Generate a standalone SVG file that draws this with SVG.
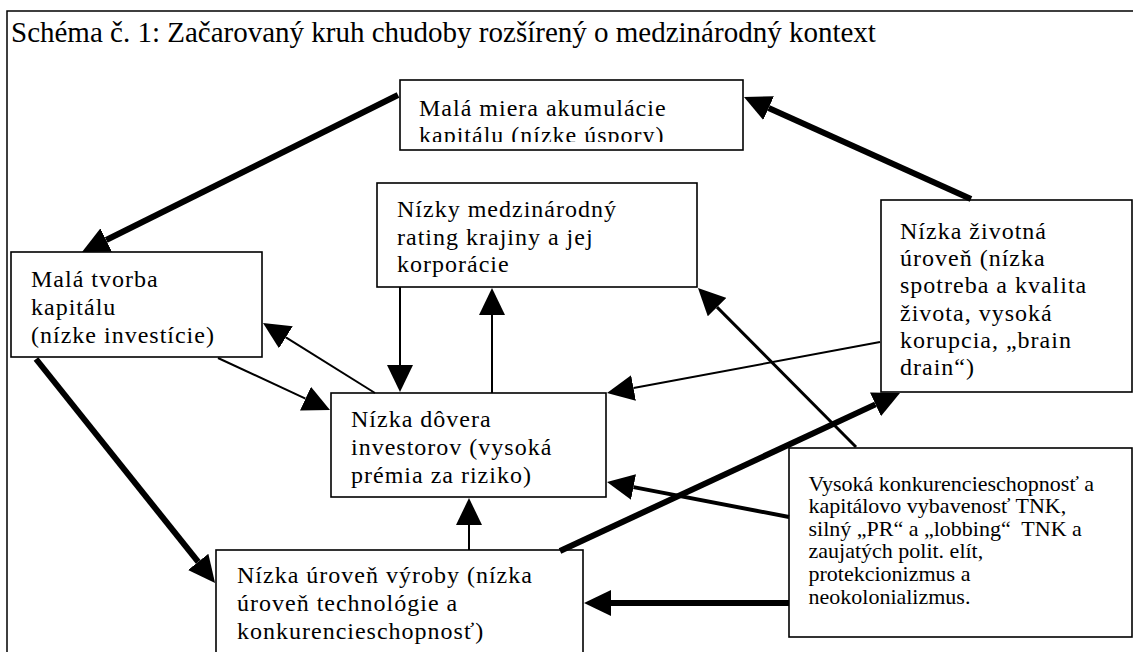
<svg xmlns="http://www.w3.org/2000/svg" width="1133" height="652" viewBox="0 0 1133 652">
<style>
.frame{fill:none;stroke:#000;stroke-width:1.5}
.box{fill:#fff;stroke:#000;stroke-width:1.6}
.t{font-family:"Liberation Serif","Times New Roman",serif;font-size:24px;letter-spacing:1px;fill:#000}
.ts{font-family:"Liberation Serif","Times New Roman",serif;font-size:22px;fill:#000;white-space:pre}
.title{font-family:"Liberation Serif","Times New Roman",serif;font-size:29px;fill:#000}
.c{stroke:#000;fill:none;marker-end:url(#ah)}
.w2{stroke-width:2}
.w3{stroke-width:3}
.w4{stroke-width:4}
.w6{stroke-width:6}
</style>
<defs>
<marker id="ah" markerUnits="userSpaceOnUse" viewBox="0 0 27 26" refX="0" refY="13" markerWidth="27" markerHeight="26" orient="auto">
<path d="M0,0 L27,13 L0,26 z" fill="#000"/>
</marker>
<clipPath id="clipA"><rect x="400" y="80" width="343" height="62"/></clipPath>
</defs>
<rect width="1133" height="652" fill="#fff"/>
<path class="frame" d="M7,652 V11 H1133"/>
<text class="title" x="11" y="42">Schéma č. 1: Začarovaný kruh chudoby rozšírený o medzinárodný kontext</text>

<g id="nodeA">
<rect class="box" x="400" y="80" width="343" height="70"/>
<text class="t" clip-path="url(#clipA)"><tspan x="419" y="115.5">Malá miera akumulácie</tspan><tspan x="419" y="143">kapitálu (nízke úspory)</tspan></text>
</g>
<g id="nodeB">
<rect class="box" x="11" y="252" width="251" height="105"/>
<text class="t"><tspan x="31" y="287">Malá tvorba</tspan><tspan x="31" y="315">kapitálu</tspan><tspan x="31" y="343">(nízke investície)</tspan></text>
</g>
<g id="nodeC">
<rect class="box" x="377" y="183" width="320" height="104"/>
<text class="t"><tspan x="397" y="217">Nízky medzinárodný</tspan><tspan x="397" y="244.5">rating krajiny a jej</tspan><tspan x="397" y="272">korporácie</tspan></text>
</g>
<g id="nodeD">
<rect class="box" x="881" y="200" width="251" height="192"/>
<text class="t"><tspan x="900" y="239">Nízka životná</tspan><tspan x="900" y="266.2">úroveň (nízka</tspan><tspan x="900" y="293.4">spotreba a kvalita</tspan><tspan x="900" y="320.6">života, vysoká</tspan><tspan x="900" y="347.8">korupcia, „brain</tspan><tspan x="900" y="375">drain“)</tspan></text>
</g>
<g id="nodeE">
<rect class="box" x="331" y="393" width="275" height="104"/>
<text class="t"><tspan x="351" y="427">Nízka dôvera</tspan><tspan x="351" y="455">investorov (vysoká</tspan><tspan x="351" y="483">prémia za riziko)</tspan></text>
</g>
<g id="nodeF">
<rect class="box" x="216" y="550" width="367" height="120"/>
<text class="t"><tspan x="237" y="583">Nízka úroveň výroby (nízka</tspan><tspan x="237" y="611">úroveň technológie a</tspan><tspan x="237" y="639">konkurencieschopnosť)</tspan></text>
</g>
<g id="nodeG">
<rect class="box" x="789" y="448" width="343" height="189"/>
<text class="ts"><tspan x="808.5" y="490.5">Vysoká konkurencieschopnosť a</tspan><tspan x="808.5" y="513.1">kapitálovo vybavenosť TNK,</tspan><tspan x="808.5" y="535.7">silný „PR“ a „lobbing“  TNK a</tspan><tspan x="808.5" y="558.3">zaujatých polit. elít,</tspan><tspan x="808.5" y="580.9">protekcionizmus a</tspan><tspan x="808.5" y="603.5">neokolonializmus.</tspan></text>
</g>

<g id="connectors">
<line class="c w6" x1="398" y1="95" x2="106.2" y2="240"/>
<line class="c w6" x1="971" y1="199" x2="768.6" y2="108.1"/>
<line class="c w2" x1="375" y1="393" x2="285.9" y2="337.3"/>
<line class="c w2" x1="218" y1="358" x2="305.5" y2="398.6"/>
<line class="c w2" x1="400" y1="287" x2="400" y2="365"/>
<line class="c w2" x1="492" y1="393" x2="492" y2="315"/>
<line class="c w2" x1="880" y1="342" x2="633.5" y2="388"/>
<line class="c w3" x1="856" y1="447" x2="717" y2="307.1"/>
<line class="c w4" x1="789" y1="517" x2="633.5" y2="487.1"/>
<line class="c w6" x1="560" y1="551" x2="875.5" y2="404.4"/>
<line class="c w6" x1="789" y1="603" x2="611" y2="603"/>
<line class="c w6" x1="36" y1="359" x2="198.2" y2="561.9"/>
<line class="c w2" x1="469" y1="550" x2="469" y2="525"/>
</g>
</svg>
